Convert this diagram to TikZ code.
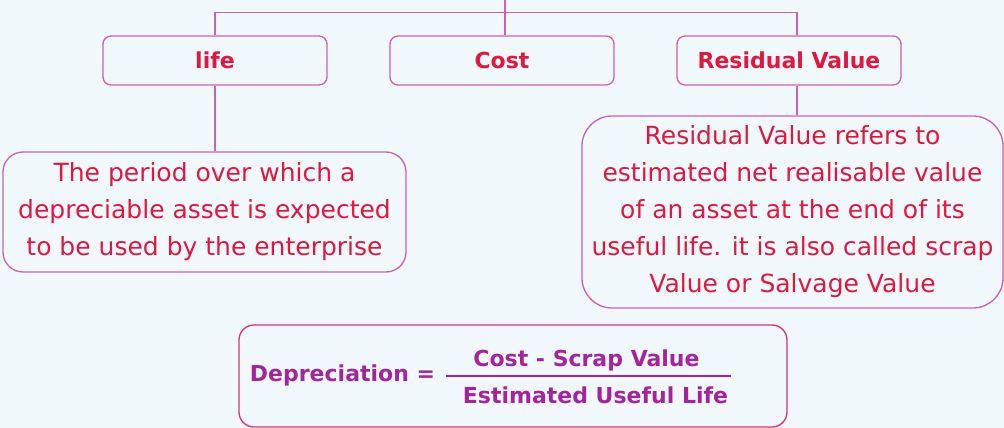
\documentclass[tikz,border=0pt]{standalone}
\usepackage{fontspec}
\setmainfont{DejaVu Sans}
\usetikzlibrary{positioning}
\definecolor{bgblue}{HTML}{F2F9FD}
\definecolor{linkpink}{HTML}{CF5FB5}
\definecolor{txtred}{HTML}{E3173E}
\definecolor{fmlpurple}{HTML}{A5239F}
\definecolor{fmlframe}{HTML}{E3306A}

\begin{document}
\begin{tikzpicture}[x=1pt,y=-1pt,
 link/.style={draw=linkpink,line width=1.3pt},
 headbox/.style={link,rounded corners=8pt,minimum width=224pt,minimum height=49pt,text=txtred,font=\bfseries\fontsize{22}{26}\selectfont},
 notebox/.style={link,text=txtred,align=center,inner sep=0pt,font=\fontsize{25}{37}\selectfont},
 fmltext/.style={text=fmlpurple,inner sep=0pt,font=\bfseries\fontsize{22}{26}\selectfont}]
 \fill[bgblue] (0,0) rectangle (1004,428); %背景
 \useasboundingbox (0,0) rectangle (1004,428);
 % 見出し
 \node[headbox] (life) at (215,60.5) {life};
 \node[headbox] (cost) at (502,60.5) {Cost};
 \node[headbox] (rv) at (789,60.5) {Residual Value};
 % 説明
 \node[notebox,rounded corners=20pt,minimum width=403pt,minimum height=120pt] (lifetxt) at (204.5,212)
  {The period over which a\\depreciable asset is expected\\to be used by the enterprise};
 \node[notebox,rounded corners=30pt,minimum width=421pt,minimum height=192pt] (rvtxt) at (792.5,212)
  {Residual Value refers to\\estimated net realisable value\\of an asset at the end of its\\useful life. it is also called scrap\\Value or Salvage Value};
 % 線
 \coordinate (top) at (505,0);
 \draw[link] (top) -- (top |- cost.north);
 \draw[link] (life.north) -- ++(0,-23) -| ([xshift=8pt]rv.north);
 \draw[link] (life.south) -- (life.south |- lifetxt.north);
 \draw[link] ([xshift=8pt]rv.south) -- ([xshift=8pt]rv.south |- rvtxt.north);
 % 公式
 \node[draw=fmlframe,line width=1.3pt,rounded corners=15pt,minimum width=548pt,minimum height=102pt] (fml) at (513,376) {};
 \node[fmltext] (dep) at (342.5,375) {Depreciation =};
 \node[fmltext] (num) at (586.5,360) {Cost - Scrap Value};
 \node[fmltext] (den) at (595.5,395) {Estimated Useful Life};
 \coordinate (barL) at (446,376);
 \coordinate (barR) at (731,376);
 \draw[fmlpurple,line width=1.3pt] (barL) -- (barR);
\end{tikzpicture}
\end{document}
